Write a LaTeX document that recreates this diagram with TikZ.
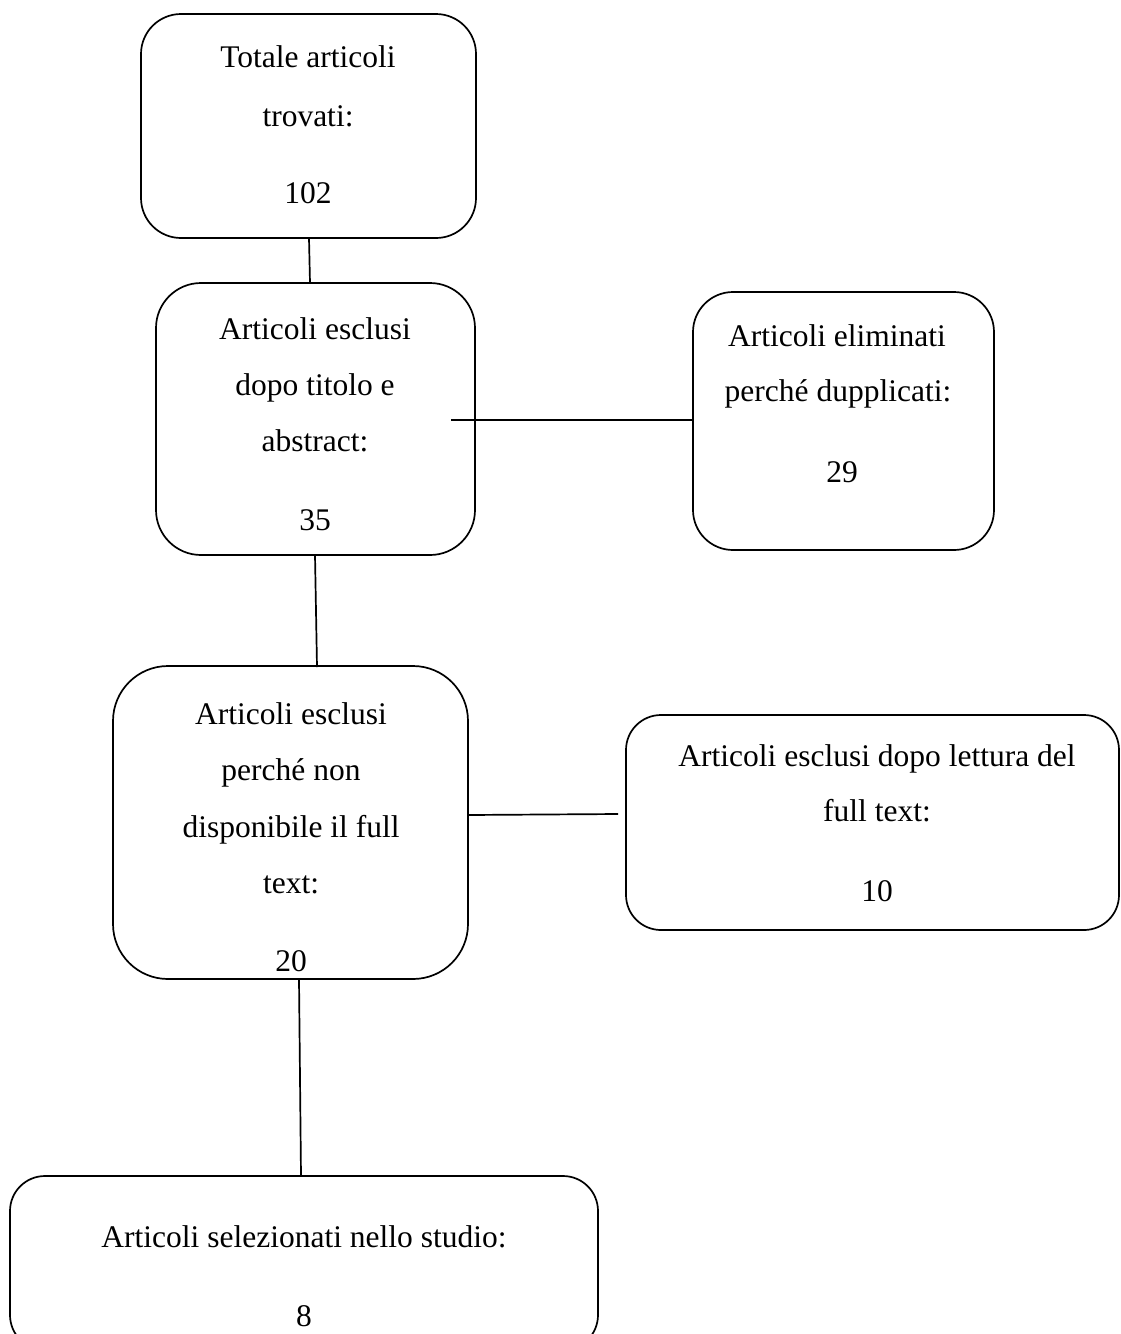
\documentclass[tikz,border=0pt]{standalone}
\usepackage{fontspec}
\setmainfont{Liberation Serif}
\begin{document}
\begin{tikzpicture}[x=1pt,y=-1pt,
  box/.style={draw, line width=1.7pt, rounded corners=40pt, inner sep=0pt, outer sep=0pt},
  txt/.style={anchor=base, inner sep=0pt, font=\fontsize{31.5}{38}\selectfont},
  link/.style={line width=1.7pt}]
\useasboundingbox (0,0) rectangle (1120,1334);
% boxes
\node[box, minimum width=335pt, minimum height=224pt] (b1) at (308.5,126) {};
\node[box, minimum width=319pt, minimum height=272pt, rounded corners=45pt] (b2) at (315.5,419) {};
\node[box, minimum width=301pt, minimum height=258pt] (b3) at (843.5,421) {};
\node[box, minimum width=355pt, minimum height=313pt, rounded corners=55pt] (b4) at (290.5,822.5) {};
\node[box, minimum width=493pt, minimum height=215pt, rounded corners=35pt] (b5) at (872.5,822.5) {};
\node[box, minimum width=588pt, minimum height=174pt, rounded corners=35pt] (b6) at (304,1263) {};
% texts
\node[txt] (t1a) at (308,67) {Totale articoli};
\node[txt] (t1b) at (308,126) {trovati:};
\node[txt] (t1c) at (308,203) {102};
\node[txt] (t2a) at (315,339) {Articoli esclusi};
\node[txt] (t2b) at (315,395) {dopo titolo e};
\node[txt] (t2c) at (315,451) {abstract:};
\node[txt] (t2d) at (315,530) {35};
\node[txt] (t3a) at (837,346) {Articoli eliminati};
\node[txt] (t3b) at (838,401) {perché dupplicati:};
\node[txt] (t3c) at (842,482) {29};
\node[txt] (t4a) at (291,724) {Articoli esclusi};
\node[txt] (t4b) at (291,780) {perché non};
\node[txt] (t4c) at (291,837) {disponibile il full};
\node[txt] (t4d) at (291,893) {text:};
\node[txt] (t4e) at (291,971) {20};
\node[txt] (t5a) at (877,766) {Articoli esclusi dopo lettura del};
\node[txt] (t5b) at (877,821) {full text:};
\node[txt] (t5c) at (877,901) {10};
\node[txt] (t6a) at (304,1247) {Articoli selezionati nello studio:};
\node[txt] (t6b) at (304,1326) {8};
% connector end points
\coordinate (c1) at (309,238);
\coordinate (c2) at (310,283);
\coordinate (c3) at (315,555);
\coordinate (c4) at (317,667);
\coordinate (c5) at (451,420);
\coordinate (c6) at (693,420);
\coordinate (c7) at (468,815);
\coordinate (c8) at (618,814);
\coordinate (c9) at (299,979);
\coordinate (c10) at (301,1176);
% connectors
\draw[link] (c1) -- (c2);
\draw[link] (c3) -- (c4);
\draw[link] (c5) -- (c6);
\draw[link] (c7) -- (c8);
\draw[link] (c9) -- (c10);
\end{tikzpicture}
\end{document}
